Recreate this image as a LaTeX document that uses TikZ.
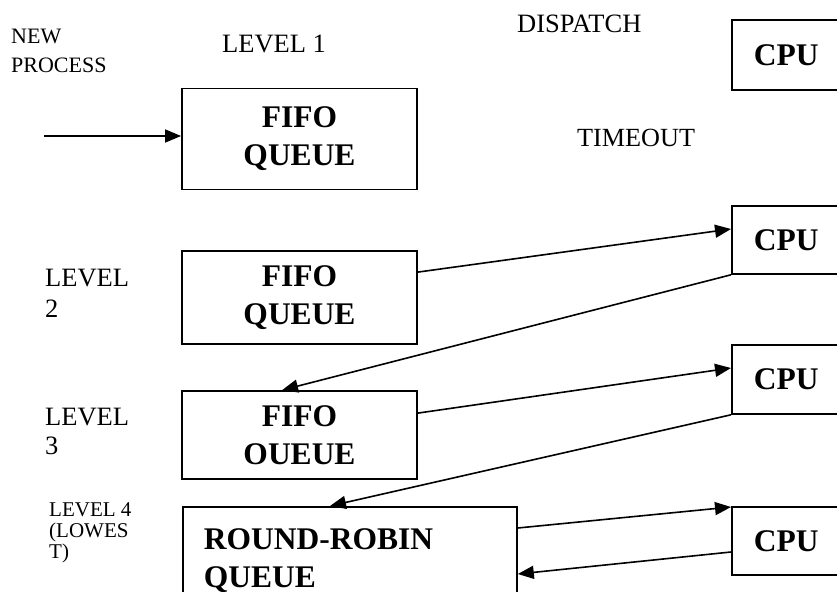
\documentclass[tikz,border=0pt]{standalone}
\usepackage{fontspec}
\setmainfont{Liberation Serif}
\usetikzlibrary{arrows.meta,calc}
\tikzset{
  qbox/.style={draw,line width=1.8pt,inner sep=0pt,align=center,
    font=\fontsize{31.5}{38}\selectfont\bfseries},
  cpubox/.style={draw,line width=1.8pt,anchor=north west,minimum width=129pt,
    text width=85pt,inner xsep=22pt,inner ysep=0pt,align=left,
    font=\fontsize{31.5}{38}\selectfont\bfseries},
  lbl/.style={anchor=north west,inner sep=0pt,align=left},
  conn/.style={line width=1.6pt,-{Triangle[length=16pt,width=13pt]}}
}
\begin{document}
\begin{tikzpicture}[x=1pt,y=-1pt]
\path[use as bounding box,clip] (0,0) rectangle (837,591);
% queue boxes
\node[qbox,minimum width=235pt,minimum height=101pt] (b1) at (299.5,139) {FIFO\\QUEUE};
\node[qbox,minimum width=235pt,minimum height=93pt] (b2) at (299.5,297.5) {FIFO\\QUEUE};
\node[qbox,minimum width=235pt,minimum height=88pt] (b3) at (299.5,435) {FIFO\\OUEUE};
\node[draw,line width=1.8pt,anchor=north west,text width=292pt,inner xsep=21pt,
  inner ysep=22pt,align=left,font=\fontsize{31.5}{38}\selectfont\bfseries]
  (b4) at (182,506) {ROUND-ROBIN\\QUEUE};
% cpu boxes
\node[cpubox,minimum height=70pt] (cpu1) at (731,19) {CPU};
\node[cpubox,minimum height=68pt] (cpu2) at (731,205) {CPU};
\node[cpubox,minimum height=69pt] (cpu3) at (731,344) {CPU};
\node[cpubox,minimum height=68pt] (cpu4) at (731,506) {CPU};
% labels
\node[lbl,font=\fontsize{22}{29}\selectfont] (np) at (11,29) {NEW\\PROCESS};
\node[lbl,font=\fontsize{26.5}{31}\selectfont] (l1) at (222,35) {LEVEL 1};
\node[lbl,font=\fontsize{26.5}{31}\selectfont] (disp) at (517,15) {DISPATCH};
\node[lbl,font=\fontsize{26.2}{31}\selectfont] (tout) at (577,129) {TIMEOUT};
\node[lbl,font=\fontsize{26.5}{31}\selectfont] (l2) at (45,269) {LEVEL\\2};
\node[lbl,font=\fontsize{26.5}{29}\selectfont] (l3) at (45,408) {LEVEL\\3};
\node[lbl,font=\fontsize{21}{21}\selectfont] (l4) at (49,502) {LEVEL 4\\(LOWES\\T)};
% connectors
\coordinate (start) at (44,136);
\draw[conn] (start) -- (start -| b1.west);
\draw[conn] ($(b2.north east)+(0,22)$) -- ($(cpu2.north west)+(0,24)$);
\draw[conn] (cpu2.south west) -- ($(b3.north west)+(101,0)$);
\draw[conn] ($(b3.north east)+(0,23)$) -- ($(cpu3.north west)+(0,24)$);
\draw[conn] (cpu3.south west) -- ($(b4.north west)+(148,0)$);
\draw[conn] ($(b4.north east)+(0,22)$) -- ($(cpu4.north west)+(0,1)$);
\draw[conn] ($(cpu4.north west)+(0,46)$) -- ($(b4.north east)+(0,68)$);
\end{tikzpicture}
\end{document}
